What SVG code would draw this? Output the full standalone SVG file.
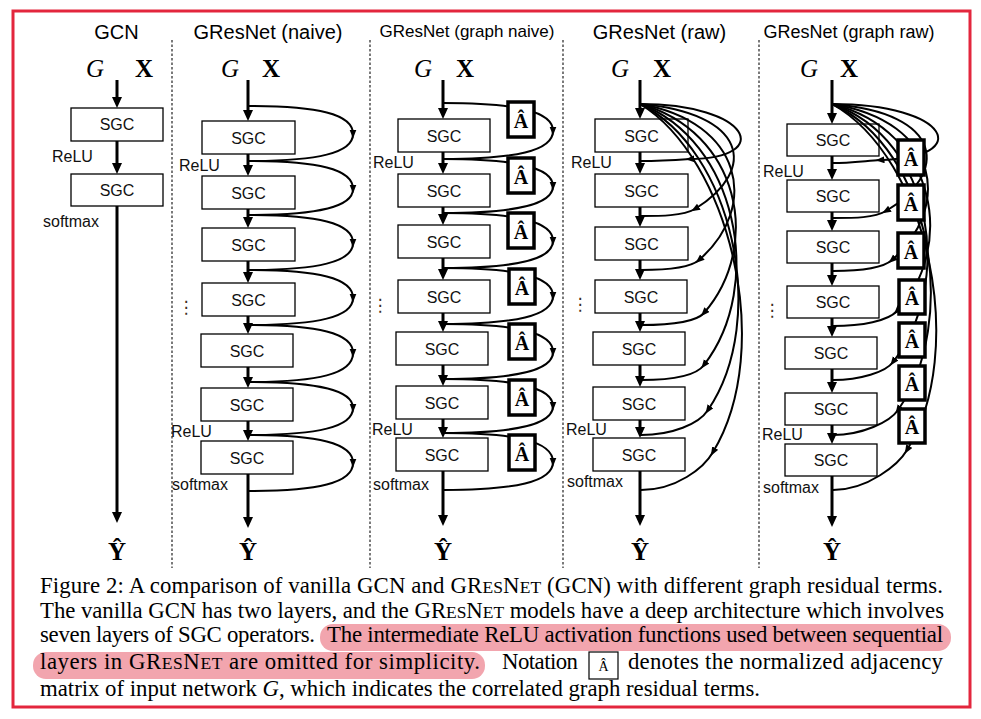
<svg xmlns="http://www.w3.org/2000/svg" width="981" height="719" viewBox="0 0 981 719">
<defs>
<marker id="mh" markerUnits="userSpaceOnUse" markerWidth="12" markerHeight="12" refX="5" refY="5" orient="auto"><path d="M0,0 L11,5 L0,10 z" fill="#000"/></marker>
<marker id="ch" markerUnits="userSpaceOnUse" markerWidth="10" markerHeight="8" refX="4.5" refY="3.5" orient="auto"><path d="M0,0 L9,3.5 L0,7 z" fill="#000"/></marker>
<style>
.box{fill:#fff;stroke:#000;stroke-width:1.3}
.ab{fill:#fff;stroke:#000;stroke-width:3.5}
.main{stroke:#000;stroke-width:3;fill:none;marker-end:url(#mh)}
.cv{stroke:#000;stroke-width:2;fill:none;marker-mid:url(#ch)}
.div{stroke:#222;stroke-width:1.2;stroke-dasharray:2.5 2}
.lbl{font-family:"Liberation Sans",Arial,sans-serif;font-size:16px;fill:#111}
.sgc{font-family:"Liberation Sans",Arial,sans-serif;font-size:16px;fill:#111;text-anchor:middle}
.title{font-family:"Liberation Sans",Arial,sans-serif;font-size:20px;fill:#000;text-anchor:middle}
.gi{font-family:"Liberation Serif","Times New Roman",serif;font-style:italic;font-size:25px;text-anchor:middle}
.xb{font-family:"Liberation Serif","Times New Roman",serif;font-weight:bold;font-size:25px;text-anchor:middle}
.hat{font-family:"Liberation Serif","Times New Roman",serif;font-weight:bold;font-size:20px;text-anchor:middle}
.dots{font-family:"DejaVu Sans",sans-serif;font-size:17px;fill:#3a2a20;text-anchor:middle}
.cap{font-family:"Liberation Serif","Times New Roman",serif;font-size:22.8px;fill:#000}
.sc{font-size:17.5px}
.hl{fill:#f2a5ae}
</style>
</defs>

<rect x="13" y="11" width="957" height="696" fill="#fff" stroke="#e3263d" stroke-width="3"/>

<g id="dividers">
<line class="div" x1="172" y1="40" x2="172" y2="568"/>
<line class="div" x1="370" y1="40" x2="370" y2="568"/>
<line class="div" x1="563" y1="40" x2="563" y2="568"/>
<line class="div" x1="759" y1="40" x2="759" y2="568"/>
</g>

<g id="titles">
<text class="title" x="116.5" y="39">GCN</text>
<text class="title" x="268" y="39">GResNet (naive)</text>
<text class="title" x="467" y="37" style="font-size:17px">GResNet (graph naive)</text>
<text class="title" x="659.5" y="39">GResNet (raw)</text>
<text class="title" x="849" y="38" style="font-size:18px">GResNet (graph raw)</text>
</g>

<!-- GCN column -->
<g id="gcn">
<text class="gi" x="95" y="77">G</text><text class="xb" x="144" y="77">X</text>
<rect class="box" x="71" y="108" width="92" height="33"/><text class="sgc" x="117" y="130">SGC</text>
<rect class="box" x="71" y="174" width="92" height="32"/><text class="sgc" x="117" y="196">SGC</text>
<text class="lbl" x="52" y="162">ReLU</text>
<text class="lbl" x="43" y="227">softmax</text>
<text class="xb" x="117" y="560">Ŷ</text>
</g>

<!-- naive column -->
<g id="naive">
<text class="gi" x="230" y="77">G</text><text class="xb" x="271" y="77">X</text>
<rect class="box" x="202" y="121" width="93" height="33"/><text class="sgc" x="248.5" y="143.5">SGC</text>
<rect class="box" x="202" y="176" width="93" height="33"/><text class="sgc" x="248.5" y="198.5">SGC</text>
<rect class="box" x="202" y="228" width="93" height="33"/><text class="sgc" x="248.5" y="250.5">SGC</text>
<rect class="box" x="202" y="283" width="93" height="33"/><text class="sgc" x="248.5" y="305.5">SGC</text>
<rect class="box" x="201" y="334" width="92" height="33"/><text class="sgc" x="247" y="356.5">SGC</text>
<rect class="box" x="201" y="388" width="92" height="33"/><text class="sgc" x="247" y="410.5">SGC</text>
<rect class="box" x="201" y="441" width="92" height="33"/><text class="sgc" x="247" y="463.5">SGC</text>
<text class="lbl" x="179" y="171">ReLU</text>
<text class="lbl" x="171" y="437">ReLU</text>
<text class="lbl" x="172" y="490">softmax</text>
<text class="dots" x="186" y="313">⋮</text>
<text class="xb" x="248" y="560">Ŷ</text>
</g>

<!-- graph naive column -->
<g id="graph-naive">
<text class="gi" x="423" y="77">G</text><text class="xb" x="465" y="77">X</text>
<rect class="box" x="398" y="119" width="92" height="33"/><text class="sgc" x="444" y="141.5">SGC</text>
<rect class="box" x="398" y="174" width="92" height="33"/><text class="sgc" x="444" y="196.5">SGC</text>
<rect class="box" x="398" y="225" width="92" height="33"/><text class="sgc" x="444" y="247.5">SGC</text>
<rect class="box" x="398" y="280" width="92" height="33"/><text class="sgc" x="444" y="302.5">SGC</text>
<rect class="box" x="396" y="332" width="92" height="33"/><text class="sgc" x="442" y="354.5">SGC</text>
<rect class="box" x="396" y="386" width="92" height="33"/><text class="sgc" x="442" y="408.5">SGC</text>
<rect class="box" x="396" y="438" width="92" height="33"/><text class="sgc" x="442" y="460.5">SGC</text>
<text class="lbl" x="373" y="168">ReLU</text>
<text class="lbl" x="372" y="435">ReLU</text>
<text class="lbl" x="373" y="490">softmax</text>
<text class="dots" x="380" y="311">⋮</text>
<text class="xb" x="443" y="560">Ŷ</text>
</g>

<!-- raw column -->
<g id="raw">
<text class="gi" x="620" y="77">G</text><text class="xb" x="662" y="77">X</text>
<rect class="box" x="595" y="119" width="93" height="33"/><text class="sgc" x="641.5" y="141.5">SGC</text>
<rect class="box" x="595" y="174" width="93" height="33"/><text class="sgc" x="641.5" y="196.5">SGC</text>
<rect class="box" x="595" y="227" width="93" height="33"/><text class="sgc" x="641.5" y="249.5">SGC</text>
<rect class="box" x="595" y="280" width="92" height="33"/><text class="sgc" x="641" y="302.5">SGC</text>
<rect class="box" x="593" y="332" width="92" height="33"/><text class="sgc" x="639" y="354.5">SGC</text>
<rect class="box" x="593" y="387" width="92" height="33"/><text class="sgc" x="639" y="409.5">SGC</text>
<rect class="box" x="593" y="438" width="92" height="33"/><text class="sgc" x="639" y="460.5">SGC</text>
<text class="lbl" x="571" y="168">ReLU</text>
<text class="lbl" x="566" y="435">ReLU</text>
<text class="lbl" x="567" y="487">softmax</text>
<text class="dots" x="580" y="310">⋮</text>
<text class="xb" x="640" y="560">Ŷ</text>
</g>

<!-- graph raw column -->
<g id="graph-raw">
<text class="gi" x="809" y="77">G</text><text class="xb" x="849" y="77">X</text>
<rect class="box" x="787" y="124" width="92" height="32"/><text class="sgc" x="833" y="146">SGC</text>
<rect class="box" x="787" y="180" width="92" height="32"/><text class="sgc" x="833" y="202">SGC</text>
<rect class="box" x="787" y="231" width="92" height="32"/><text class="sgc" x="833" y="253">SGC</text>
<rect class="box" x="787" y="286" width="92" height="32"/><text class="sgc" x="833" y="308">SGC</text>
<rect class="box" x="785" y="337" width="92" height="32"/><text class="sgc" x="831" y="359">SGC</text>
<rect class="box" x="785" y="393" width="92" height="32"/><text class="sgc" x="831" y="415">SGC</text>
<rect class="box" x="785" y="444" width="92" height="32"/><text class="sgc" x="831" y="466">SGC</text>
<text class="lbl" x="763" y="177">ReLU</text>
<text class="lbl" x="762" y="440">ReLU</text>
<text class="lbl" x="763" y="493">softmax</text>
<text class="dots" x="772" y="316">⋮</text>
<text class="xb" x="832" y="560">Ŷ</text>
</g>

<g id="connectors">
<!-- GCN -->
<line class="main" x1="117" y1="80" x2="117" y2="102"/>
<line class="main" x1="117" y1="141" x2="117" y2="168"/>
<line class="main" x1="117" y1="206" x2="117" y2="517"/>
<!-- naive main -->
<line class="main" x1="248" y1="80" x2="248" y2="115"/>
<line class="main" x1="248" y1="154" x2="248" y2="170"/>
<line class="main" x1="248" y1="209" x2="248" y2="222"/>
<line class="main" x1="248" y1="261" x2="248" y2="277"/>
<line class="main" x1="248" y1="316" x2="248" y2="328"/>
<line class="main" x1="248" y1="367" x2="248" y2="382"/>
<line class="main" x1="248" y1="421" x2="248" y2="435"/>
<line class="main" x1="248" y1="474" x2="248" y2="522"/>
<!-- naive skips -->
<path class="cv" d="M248,106 C318,106 353,114 353,134 C353,153 318,161 248,161"/>
<path class="cv" d="M248,161 C318,161 353,169 353,189 C353,207 318,215 248,215"/>
<path class="cv" d="M248,215 C318,215 353,223 353,243 C353,262 318,270 248,270"/>
<path class="cv" d="M248,270 C318,270 353,278 353,298 C353,317 318,325 248,325"/>
<path class="cv" d="M248,325 C318,325 353,333 353,353 C353,374 318,382 248,382"/>
<path class="cv" d="M248,382 C318,382 353,390 353,408 C353,427 318,435 248,435"/>
<path class="cv" d="M248,435 C318,435 353,443 353,463 C353,483 318,491 248,491"/>
<!-- graph naive main -->
<line class="main" x1="443" y1="80" x2="443" y2="113"/>
<line class="main" x1="443" y1="152" x2="443" y2="168"/>
<line class="main" x1="443" y1="207" x2="443" y2="219"/>
<line class="main" x1="443" y1="258" x2="443" y2="274"/>
<line class="main" x1="443" y1="313" x2="443" y2="326"/>
<line class="main" x1="443" y1="365" x2="443" y2="380"/>
<line class="main" x1="443" y1="419" x2="443" y2="432"/>
<line class="main" x1="443" y1="471" x2="443" y2="520"/>
<!-- graph naive skips -->
<path class="cv" d="M443,103 C515,103 553,111 553,131 C553,151 515,159 443,159"/>
<path class="cv" d="M443,159 C515,159 553,167 553,186 C553,205 515,213 443,213"/>
<path class="cv" d="M443,213 C515,213 553,221 553,241 C553,260 515,268 443,268"/>
<path class="cv" d="M443,268 C515,268 553,276 553,296 C553,316 515,324 443,324"/>
<path class="cv" d="M443,324 C515,324 553,332 553,352 C553,371 515,379 443,379"/>
<path class="cv" d="M443,379 C515,379 553,387 553,406 C553,425 515,433 443,433"/>
<path class="cv" d="M443,433 C515,433 553,441 553,462 C553,482 515,490 443,490"/>
<!-- raw main -->
<line class="main" x1="640" y1="80" x2="640" y2="113"/>
<line class="main" x1="640" y1="152" x2="640" y2="168"/>
<line class="main" x1="640" y1="207" x2="640" y2="221"/>
<line class="main" x1="640" y1="260" x2="640" y2="274"/>
<line class="main" x1="640" y1="313" x2="640" y2="326"/>
<line class="main" x1="640" y1="365" x2="640" y2="381"/>
<line class="main" x1="640" y1="420" x2="640" y2="432"/>
<line class="main" x1="640" y1="471" x2="640" y2="520"/>
<!-- raw skips -->
<path class="cv" d="M640,104 C750,104 775,158 690,159 C675,160 655,161 641,161"/>
<path class="cv" d="M640,104 C746,113 759,169 695,209 C683,216 660,216 641,216"/>
<path class="cv" d="M640,104 C743,122 760,207 699,260 C690,268 665,270 641,270"/>
<path class="cv" d="M640,104 C739,131 763,245 704,313 C695,323 668,325 641,325"/>
<path class="cv" d="M640,104 C736,140 766,285 704,365 C696,376 670,380 641,380"/>
<path class="cv" d="M640,104 C732,149 770,319 708,410 C699,424 672,435 641,435"/>
<path class="cv" d="M640,104 C729,158 776,348 713,452 C704,468 676,490 641,490"/>
<!-- graph raw main -->
<line class="main" x1="832" y1="80" x2="832" y2="118"/>
<line class="main" x1="832" y1="156" x2="832" y2="174"/>
<line class="main" x1="832" y1="212" x2="832" y2="225"/>
<line class="main" x1="832" y1="263" x2="832" y2="280"/>
<line class="main" x1="832" y1="318" x2="832" y2="331"/>
<line class="main" x1="832" y1="369" x2="832" y2="387"/>
<line class="main" x1="832" y1="425" x2="832" y2="438"/>
<line class="main" x1="832" y1="476" x2="832" y2="521"/>
<!-- graph raw skips -->
<path class="cv" d="M832,104 C950,104 975,158 880,160 C865,161 848,163 833,163"/>
<path class="cv" d="M832,104 C946,113 948,174 886,211 C874,218 855,218 833,218"/>
<path class="cv" d="M832,104 C943,122 950,209 892,260 C883,268 858,271 833,271"/>
<path class="cv" d="M832,104 C939,131 955,250 897,311 C888,321 862,326 833,326"/>
<path class="cv" d="M832,104 C936,140 953,286 893,362 C886,372 860,380 833,380"/>
<path class="cv" d="M832,104 C932,149 960,322 898,410 C890,422 862,435 833,435"/>
<path class="cv" d="M832,104 C929,158 968,352 907,450 C899,464 868,490 833,490"/>
</g>

<g id="adj-naive">
<rect class="ab" x="508" y="102" width="26" height="35"/><text class="hat" x="521" y="128">Â</text>
<rect class="ab" x="508" y="158" width="26" height="35"/><text class="hat" x="521" y="184">Â</text>
<rect class="ab" x="508" y="213" width="26" height="35"/><text class="hat" x="521" y="239">Â</text>
<rect class="ab" x="509" y="269" width="26" height="35"/><text class="hat" x="522" y="295">Â</text>
<rect class="ab" x="509" y="324" width="26" height="35"/><text class="hat" x="522" y="350">Â</text>
<rect class="ab" x="509" y="380" width="26" height="35"/><text class="hat" x="522" y="406">Â</text>
<rect class="ab" x="509" y="435" width="26" height="35"/><text class="hat" x="522" y="461">Â</text>
</g>

<g id="adj-raw">
<rect class="ab" x="898" y="140" width="26" height="35"/><text class="hat" x="911" y="166">Â</text>
<rect class="ab" x="898" y="185" width="26" height="35"/><text class="hat" x="911" y="211">Â</text>
<rect class="ab" x="898" y="233" width="26" height="35"/><text class="hat" x="911" y="259">Â</text>
<rect class="ab" x="899" y="280" width="26" height="34"/><text class="hat" x="912" y="305">Â</text>
<rect class="ab" x="899" y="323" width="26" height="34"/><text class="hat" x="912" y="348">Â</text>
<rect class="ab" x="899" y="366" width="26" height="34"/><text class="hat" x="912" y="391">Â</text>
<rect class="ab" x="899" y="409" width="26" height="34"/><text class="hat" x="912" y="434">Â</text>
</g>

<g id="caption">
<rect class="hl" x="320" y="624" width="631" height="27" rx="13"/>
<rect class="hl" x="33" y="652" width="452" height="27" rx="13"/>
<text class="cap" x="40" y="593" textLength="903" lengthAdjust="spacing">Figure 2: A comparison of vanilla GCN and GR<tspan class="sc">ES</tspan>N<tspan class="sc">ET</tspan> (GCN) with different graph residual terms.</text>
<text class="cap" x="40" y="618" textLength="904" lengthAdjust="spacing">The vanilla GCN has two layers, and the GR<tspan class="sc">ES</tspan>N<tspan class="sc">ET</tspan> models have a deep architecture which involves</text>
<text class="cap" x="40" y="642" textLength="275" lengthAdjust="spacing">seven layers of SGC operators.</text>
<text class="cap" x="327" y="642" textLength="616" lengthAdjust="spacing">The intermediate ReLU activation functions used between sequential</text>
<text class="cap" x="40" y="669" textLength="440" lengthAdjust="spacing">layers in GR<tspan class="sc">ES</tspan>N<tspan class="sc">ET</tspan> are omitted for simplicity.</text>
<text class="cap" x="502" y="669" textLength="76" lengthAdjust="spacing">Notation</text>
<rect x="589" y="652" width="29" height="27" fill="none" stroke="#000" stroke-width="1.2"/>
<text class="cap" x="603.5" y="671" style="font-size:14px" text-anchor="middle">Â</text>
<text class="cap" x="628" y="669" textLength="315" lengthAdjust="spacing">denotes the normalized adjacency</text>
<text class="cap" x="40" y="696" textLength="720" lengthAdjust="spacing">matrix of input network <tspan font-style="italic">G</tspan>, which indicates the correlated graph residual terms.</text>
</g>
</svg>
